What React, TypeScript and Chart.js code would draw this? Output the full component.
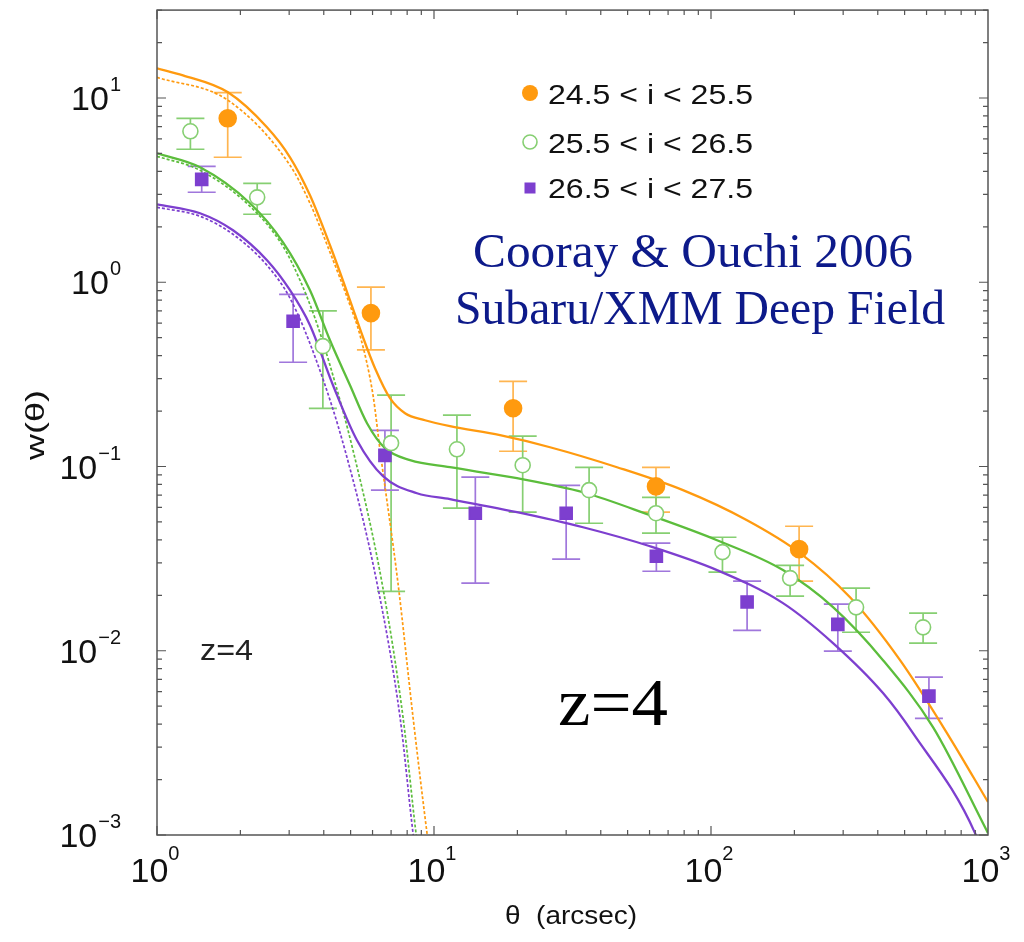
import { useEffect, useRef } from 'react';
import { Chart, registerables } from 'chart.js';

Chart.register(...registerables);

// ---- measured angular correlation, w(θ), per magnitude bin (θ in arcsec) ----
const thetaBright = [1.80, 5.92, 19.3, 63.3, 208];
const wBright = [7.76, 0.68, 0.207, 0.078, 0.0356];
const wBrightHi = [10.7, 0.94, 0.29, 0.099, 0.0474];
const wBrightLo = [4.77, 0.43, 0.121, 0.0565, 0.0239];

const thetaMid = [1.32, 2.30, 3.97, 7.0, 12.1, 20.9, 36.3, 63.3, 110, 193, 334, 583];
const wMid = [6.6, 2.89, 0.45, 0.134, 0.124, 0.1016, 0.0744, 0.0558, 0.0343, 0.0248, 0.0172, 0.0134];
const wMidHi = [7.76, 3.44, 0.70, 0.244, 0.19, 0.146, 0.099, 0.068, 0.0413, 0.0291, 0.0219, 0.016];
const wMidLo = [5.27, 2.34, 0.207, 0.021, 0.0594, 0.0565, 0.0492, 0.0435, 0.0267, 0.0198, 0.0126, 0.011];

const thetaFaint = [1.45, 3.10, 6.65, 14.1, 30.0, 63.5, 135, 287, 612];
const wFaint = [3.62, 0.614, 0.115, 0.0558, 0.0558, 0.0326, 0.0184, 0.0139, 0.00567];
const wFaintHi = [4.26, 0.86, 0.157, 0.0875, 0.079, 0.0384, 0.0239, 0.0179, 0.0072];
const wFaintLo = [3.08, 0.368, 0.0744, 0.0233, 0.0314, 0.027, 0.0129, 0.00995, 0.0043];

// ---- halo-model curves: total (1-halo + 2-halo) ----
const modelBrightTheta = [1, 1.241, 1.804, 2.495, 3.021, 3.567, 4.212, 4.975, 5.542, 6.124, 6.937, 7.859, 9.28, 11.42, 17.31, 26.23, 45.78, 79.22, 134.9, 209.6, 317.6, 481.3, 729.3, 1000];
const modelBrightW = [14.49, 13.28, 10.74, 6.934, 4.767, 2.965, 1.588, 0.798, 0.503, 0.3415, 0.2348, 0.1946, 0.1783, 0.1655, 0.1478, 0.1272, 0.0991, 0.0744, 0.0511, 0.0339, 0.0195, 0.00889, 0.00336, 0.00151];

const modelMidTheta = [1, 1.43, 2.166, 2.851, 3.567, 4.212, 4.975, 5.731, 6.655, 8.193, 11.42, 19.93, 34.51, 60.24, 105.1, 181.9, 275.7, 417.8, 633.0, 1000];
const modelMidW = [5.01, 4.207, 2.684, 1.648, 0.905, 0.4844, 0.2762, 0.1718, 0.1257, 0.1082, 0.0991, 0.0864, 0.0725, 0.0544, 0.0398, 0.0274, 0.01724, 0.00889, 0.003849, 0.001024];

const modelFaintTheta = [1, 1.43, 1.881, 2.495, 3.021, 3.567, 4.319, 5.272, 6.546, 8.681, 11.42, 19.93, 34.51, 60.24, 105.1, 181.9, 275.7, 417.8, 536.0, 897.9, 1000];
const modelFaintW = [2.65, 2.368, 1.914, 1.316, 0.905, 0.5845, 0.2762, 0.1389, 0.0886, 0.0716, 0.0665, 0.0565, 0.0468, 0.0369, 0.0274, 0.01813, 0.011, 0.00589, 0.00357, 0.001024, 0.000645];

// ---- halo-model curves: 1-halo term only ----
const oneHaloBrightTheta = [1, 1.804, 3.021, 3.567, 4.212, 4.975, 5.406, 6.024, 6.385, 7.413, 8.40, 9.435, 9.835];
const oneHaloBrightW = [12.95, 9.716, 4.313, 2.684, 1.455, 0.75, 0.516, 0.2436, 0.1226, 0.02327, 0.004362, 0.001024, 0.000645];

const oneHaloMidTheta = [1, 1.43, 2.166, 2.851, 3.283, 3.719, 4.212, 5.1, 6.493, 7.729, 8.61, 8.978];
const oneHaloMidW = [4.83, 4.053, 2.585, 1.568, 1.025, 0.6377, 0.3545, 0.1226, 0.02327, 0.004362, 0.001024, 0.000645];

const oneHaloFaintTheta = [1, 1.43, 1.881, 2.495, 3.021, 3.781, 4.772, 6.226, 7.539, 8.40, 8.756];
const oneHaloFaintW = [2.553, 2.281, 1.821, 1.236, 0.819, 0.3681, 0.1226, 0.02327, 0.004362, 0.001024, 0.000645];

// ---- labels ----
const binLabels = ['24.5 < i < 25.5', '25.5 < i < 26.5', '26.5 < i < 27.5'];
const creditLines = ['Cooray & Ouchi 2006', 'Subaru/XMM Deep Field'];
const redshiftLabel = 'z=4';
const xTickExponents = [0, 1, 2, 3];
const yTickExponents = [-3, -2, -1, 0, 1];
const xTitle = 'θ  (arcsec)';
const yTitle = 'w(θ)';

const ORANGE = '#ff9a0f';
const ORANGE_ERR = '#ffb550';
const GREEN = '#5cbd3c';
const GREEN_ERR = '#86cf72';
const PURPLE = '#7d3fcf';
const PURPLE_ERR = '#a077dc';
const NAVY = '#0d1a8a';
const FRAME = '#555555';

const SANS = '"Liberation Sans", Arial, sans-serif';
const SERIF = '"Liberation Serif", "Times New Roman", serif';

const toPoints = (xs: number[], ys: number[]) => xs.map((x, i) => ({ x, y: ys[i] }));

function fitText(
  ctx: CanvasRenderingContext2D,
  text: string,
  x: number,
  y: number,
  font: string,
  width: number,
  align: 'left' | 'center' | 'right',
  color: string
) {
  ctx.save();
  ctx.font = font;
  ctx.fillStyle = color;
  ctx.textBaseline = 'alphabetic';
  ctx.textAlign = 'left';
  const w = ctx.measureText(text).width;
  const sx = width / w;
  const x0 = align === 'left' ? x : align === 'center' ? x - width / 2 : x - width;
  ctx.translate(x0, y);
  ctx.scale(sx, 1);
  ctx.fillText(text, 0, 0);
  ctx.restore();
}

const supMinus = (e: number) => (e < 0 ? '\u2212' + Math.abs(e) : String(e));

// vertical error bars with caps, drawn beneath markers
const errorBarPlugin = {
  id: 'errorBars',
  beforeDatasetsDraw(chart: any) {
    const { ctx, chartArea, scales } = chart;
    const xs = scales.x;
    const ys = scales.y;
    ctx.save();
    ctx.beginPath();
    ctx.rect(chartArea.left, chartArea.top, chartArea.right - chartArea.left, chartArea.bottom - chartArea.top);
    ctx.clip();
    chart.data.datasets.forEach((ds: any) => {
      if (!ds.errHi) return;
      ctx.strokeStyle = ds.errColor;
      ctx.lineWidth = 1.7;
      ds.data.forEach((p: any, i: number) => {
        const px = xs.getPixelForValue(p.x);
        const yh = ys.getPixelForValue(ds.errHi[i]);
        const yl = ys.getPixelForValue(ds.errLo[i]);
        const half = 14;
        ctx.beginPath();
        ctx.moveTo(px, yh);
        ctx.lineTo(px, yl);
        ctx.moveTo(px - half, yh);
        ctx.lineTo(px + half, yh);
        ctx.moveTo(px - half, yl);
        ctx.lineTo(px + half, yl);
        ctx.stroke();
      });
    });
    ctx.restore();
  },
};

// frame with inward log ticks, tick labels, titles, key and annotations
const decorPlugin = {
  id: 'decor',
  afterDraw(chart: any) {
    const { ctx, chartArea, scales } = chart;
    const xs = scales.x;
    const ys = scales.y;
    const { left, right, top, bottom } = chartArea;

    ctx.save();
    ctx.strokeStyle = FRAME;
    ctx.lineWidth = 1.5;
    ctx.strokeRect(left, top, right - left, bottom - top);

    ctx.lineWidth = 1.2;
    const major = 9;
    const minor = 5;
    // x ticks (bottom and top)
    for (let d = 0; d < 3; d++) {
      for (let m = 1; m <= 9; m++) {
        const v = m * Math.pow(10, d);
        const px = xs.getPixelForValue(v);
        const len = m === 1 ? major : minor;
        ctx.beginPath();
        ctx.moveTo(px, bottom);
        ctx.lineTo(px, bottom - len);
        ctx.moveTo(px, top);
        ctx.lineTo(px, top + len);
        ctx.stroke();
      }
    }
    // y ticks (left and right)
    for (let d = -3; d <= 1; d++) {
      for (let m = 1; m <= 9; m++) {
        const v = m * Math.pow(10, d);
        if (v > ys.max) break;
        const py = ys.getPixelForValue(v);
        const len = m === 1 ? major : minor;
        ctx.beginPath();
        ctx.moveTo(left, py);
        ctx.lineTo(left + len, py);
        ctx.moveTo(right, py);
        ctx.lineTo(right - len, py);
        ctx.stroke();
      }
    }
    ctx.restore();

    // tick labels as 10 with superscript exponent
    ctx.save();
    ctx.fillStyle = '#111';
    ctx.textBaseline = 'alphabetic';
    const baseFont = `34px ${SANS}`;
    const expFont = `20px ${SANS}`;
    yTickExponents.forEach((e) => {
      const py = ys.getPixelForValue(Math.pow(10, e));
      const es = supMinus(e);
      ctx.font = expFont;
      const ew = ctx.measureText(es).width;
      const rightEdge = 121;
      ctx.textAlign = 'left';
      ctx.fillText(es, rightEdge - ew, py - 7);
      ctx.font = baseFont;
      ctx.textAlign = 'right';
      ctx.fillText('10', rightEdge - ew - 1, py + 12);
    });
    xTickExponents.forEach((e) => {
      const px = xs.getPixelForValue(Math.pow(10, e));
      const es = supMinus(e);
      ctx.font = baseFont;
      const bw = ctx.measureText('10').width;
      ctx.font = expFont;
      const ew = ctx.measureText(es).width;
      const start = px - 2 - (bw + ew) / 2;
      ctx.textAlign = 'left';
      ctx.font = baseFont;
      ctx.fillText('10', start, 882);
      ctx.font = expFont;
      ctx.fillText(es, start + bw, 860);
    });
    ctx.restore();

    // axis titles
    fitText(ctx, xTitle, 505, 924, `26px ${SANS}`, 132, 'left', '#111');
    ctx.save();
    ctx.translate(44, 425);
    ctx.rotate(-Math.PI / 2);
    fitText(ctx, yTitle, 0, 0, `25px ${SANS}`, 70, 'center', '#111');
    ctx.restore();

    // key
    const keyX = 530;
    const rows = [93, 142, 188];
    const baselines = [104, 153, 198];
    ctx.save();
    ctx.fillStyle = ORANGE;
    ctx.beginPath();
    ctx.arc(keyX, rows[0], 8, 0, Math.PI * 2);
    ctx.fill();
    ctx.strokeStyle = GREEN_ERR;
    ctx.lineWidth = 1.6;
    ctx.beginPath();
    ctx.arc(keyX, rows[1], 7, 0, Math.PI * 2);
    ctx.stroke();
    ctx.fillStyle = PURPLE;
    ctx.fillRect(keyX - 5.5, rows[2] - 5.5, 11, 11);
    ctx.restore();
    binLabels.forEach((t, i) => {
      fitText(ctx, t, 548, baselines[i], `28px ${SANS}`, 205, 'left', '#111');
    });

    // annotations
    fitText(ctx, creditLines[0], 693, 267, `48px ${SERIF}`, 440, 'center', NAVY);
    fitText(ctx, creditLines[1], 700, 324, `48px ${SERIF}`, 490, 'center', NAVY);
    fitText(ctx, redshiftLabel, 558, 725, `68px ${SERIF}`, 110, 'left', '#000');
    fitText(ctx, redshiftLabel, 200, 660, `30px ${SANS}`, 53, 'left', '#222');
  },
};

function curve(xs: number[], ys: number[], color: string, dashed: boolean) {
  return {
    type: 'line',
    data: toPoints(xs, ys),
    borderColor: color,
    borderWidth: dashed ? 1.7 : 2.3,
    borderDash: dashed ? [3, 2] : [],
    pointRadius: 0,
    fill: false,
    cubicInterpolationMode: 'monotone',
    order: 2,
  };
}

function markers(
  xs: number[],
  ys: number[],
  hi: number[],
  lo: number[],
  style: string,
  radius: number,
  fillColor: string,
  lineColor: string,
  errColor: string
) {
  return {
    type: 'line',
    data: toPoints(xs, ys),
    showLine: false,
    pointStyle: style,
    pointRadius: radius,
    pointBackgroundColor: fillColor,
    pointBorderColor: lineColor,
    pointBorderWidth: 1.6,
    errHi: hi,
    errLo: lo,
    errColor,
    order: 0,
  };
}

export default function App() {
  const canvasRef = useRef<HTMLCanvasElement>(null);

  useEffect(() => {
    if (!canvasRef.current) return;
    const chart = new Chart(canvasRef.current, {
      type: 'line',
      data: {
        datasets: [
          markers(thetaBright, wBright, wBrightHi, wBrightLo, 'circle', 8.5, ORANGE, ORANGE, ORANGE_ERR),
          markers(thetaMid, wMid, wMidHi, wMidLo, 'circle', 7.5, '#ffffff', GREEN_ERR, GREEN_ERR),
          markers(thetaFaint, wFaint, wFaintHi, wFaintLo, 'rect', 8.5, PURPLE, PURPLE, PURPLE_ERR),
          curve(modelBrightTheta, modelBrightW, ORANGE, false),
          curve(modelMidTheta, modelMidW, GREEN, false),
          curve(modelFaintTheta, modelFaintW, PURPLE, false),
          curve(oneHaloBrightTheta, oneHaloBrightW, ORANGE, true),
          curve(oneHaloMidTheta, oneHaloMidW, GREEN, true),
          curve(oneHaloFaintTheta, oneHaloFaintW, PURPLE, true),
        ] as any,
      },
      options: {
        animation: false,
        responsive: false,
        maintainAspectRatio: false,
        layout: { padding: { left: 157, top: 9, right: 36, bottom: 107 } },
        plugins: { legend: { display: false }, tooltip: { enabled: false } },
        scales: {
          x: { type: 'logarithmic', min: 1, max: 1000, bounds: 'data', display: false },
          y: { type: 'logarithmic', min: 0.001, max: 30, bounds: 'data', display: false },
        },
      } as any,
      plugins: [errorBarPlugin, decorPlugin],
    });
    return () => chart.destroy();
  }, []);

  return (
    <div style={{ position: 'absolute', left: 0, top: 0, width: 1024, height: 942, background: '#ffffff' }}>
      <canvas ref={canvasRef} width={1024} height={942} style={{ display: 'block', width: 1024, height: 942 }} />
    </div>
  );
}
